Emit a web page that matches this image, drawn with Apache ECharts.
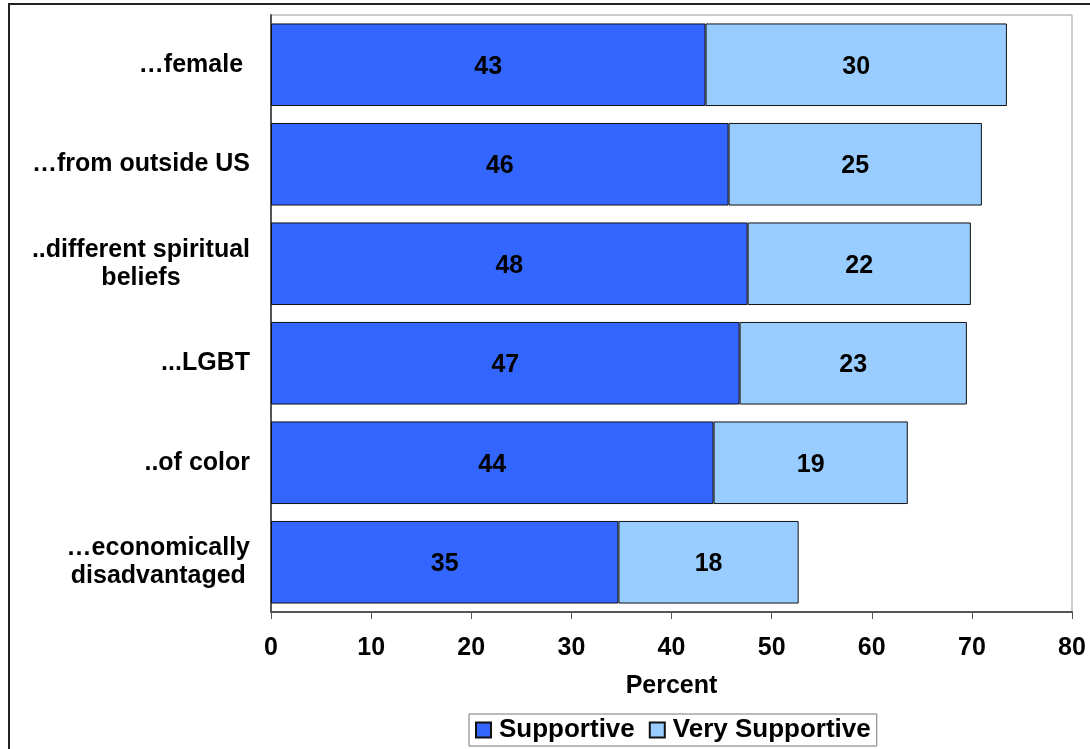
<!DOCTYPE html>
<html>
<head>
<meta charset="utf-8">
<script src="https://cdn.jsdelivr.net/npm/echarts@6/dist/echarts.min.js"></script>
<style>
html,body{margin:0;padding:0;background:#fff;}
#main{width:1090px;height:749px;}
</style>
</head>
<body>
<div id="main"></div>
<script>
// categories, top to bottom
var groups = ['…female ', '…from outside US', '..different spiritual\nbeliefs', '...LGBT', '..of color', '…economically\ndisadvantaged'];
// percent values
var supportive = [43.4, 45.7, 47.6, 46.8, 44.2, 34.7];
var verySupportive = [30.1, 25.3, 22.3, 22.7, 19.4, 18.0];
var xTicks = [0, 10, 20, 30, 40, 50, 60, 70, 80];

var fnt = '"Liberation Sans", Arial, sans-serif';
var fs = 25;

var chart = echarts.init(document.getElementById('main'));

// multi-line labels: each line centred, block right aligned to axis
function catLabel(v){
    return v.split('\n').map(function(s){ return '{c|' + s + '}'; }).join('\n');
}

var option = {
    animation: false,
    backgroundColor: '#fff',
    graphic: [{
        type: 'rect',
        shape: {x: 9, y: 4, width: 1200, height: 900},
        style: {fill: 'none', stroke: '#222', lineWidth: 2},
        silent: true
    }],
    grid: {
        left: 271, right: 18, top: 15, bottom: 137,
        show: true, borderColor: '#999', borderWidth: 1
    },
    legend: {
        data: ['Supportive', 'Very Supportive'],
        left: 469, top: 714,
        padding: [3, 6, 3, 6],
        itemGap: 14,
        itemWidth: 15, itemHeight: 15,
        borderColor: '#777', borderWidth: 1,
        icon: 'rect',
        textStyle: {fontFamily: fnt, fontWeight: 'bold', fontSize: 26, color: '#000', padding: [0, 0, 0, 3]}
    },
    xAxis: {
        type: 'value',
        min: 0, max: 80, interval: 10,
        name: 'Percent',
        nameLocation: 'middle',
        nameGap: 62,
        nameTextStyle: {fontFamily: fnt, fontWeight: 'bold', fontSize: fs, color: '#000'},
        axisLine: {show: true, lineStyle: {color: '#555', width: 2}},
        axisTick: {show: true, length: 7, lineStyle: {color: '#555'}},
        splitLine: {show: false},
        axisLabel: {
            margin: 24,
            fontFamily: fnt, fontWeight: 'bold', fontSize: fs, color: '#000',
            formatter: function(v){ return xTicks.indexOf(v) >= 0 ? String(v) : ''; }
        }
    },
    yAxis: {
        type: 'category',
        data: groups,
        inverse: true,
        axisLine: {show: true, lineStyle: {color: '#555', width: 2}},
        axisTick: {show: false},
        axisLabel: {
            margin: 21,
            align: 'right',
            lineHeight: 28,
            formatter: catLabel,
            rich: {
                c: {align: 'center', fontFamily: fnt, fontWeight: 'bold', fontSize: fs, color: '#000', lineHeight: 28}
            }
        }
    },
    series: [
        {
            name: 'Supportive',
            type: 'bar',
            stack: 'all',
            data: supportive,
            barCategoryGap: '17%',
            itemStyle: {color: '#3366FF', borderColor: '#111', borderWidth: 1},
            label: {
                show: true, position: 'inside', offset: [0, 2],
                fontFamily: fnt, fontWeight: 'bold', fontSize: fs, color: '#000',
                formatter: function(p){ return Math.round(p.value); }
            }
        },
        {
            name: 'Very Supportive',
            type: 'bar',
            stack: 'all',
            data: verySupportive,
            barCategoryGap: '17%',
            itemStyle: {color: '#99CCFF', borderColor: '#111', borderWidth: 1},
            label: {
                show: true, position: 'inside', offset: [0, 2],
                fontFamily: fnt, fontWeight: 'bold', fontSize: fs, color: '#000',
                formatter: function(p){ return Math.round(p.value); }
            }
        }
    ]
};
chart.setOption(option);
</script>
</body>
</html>
